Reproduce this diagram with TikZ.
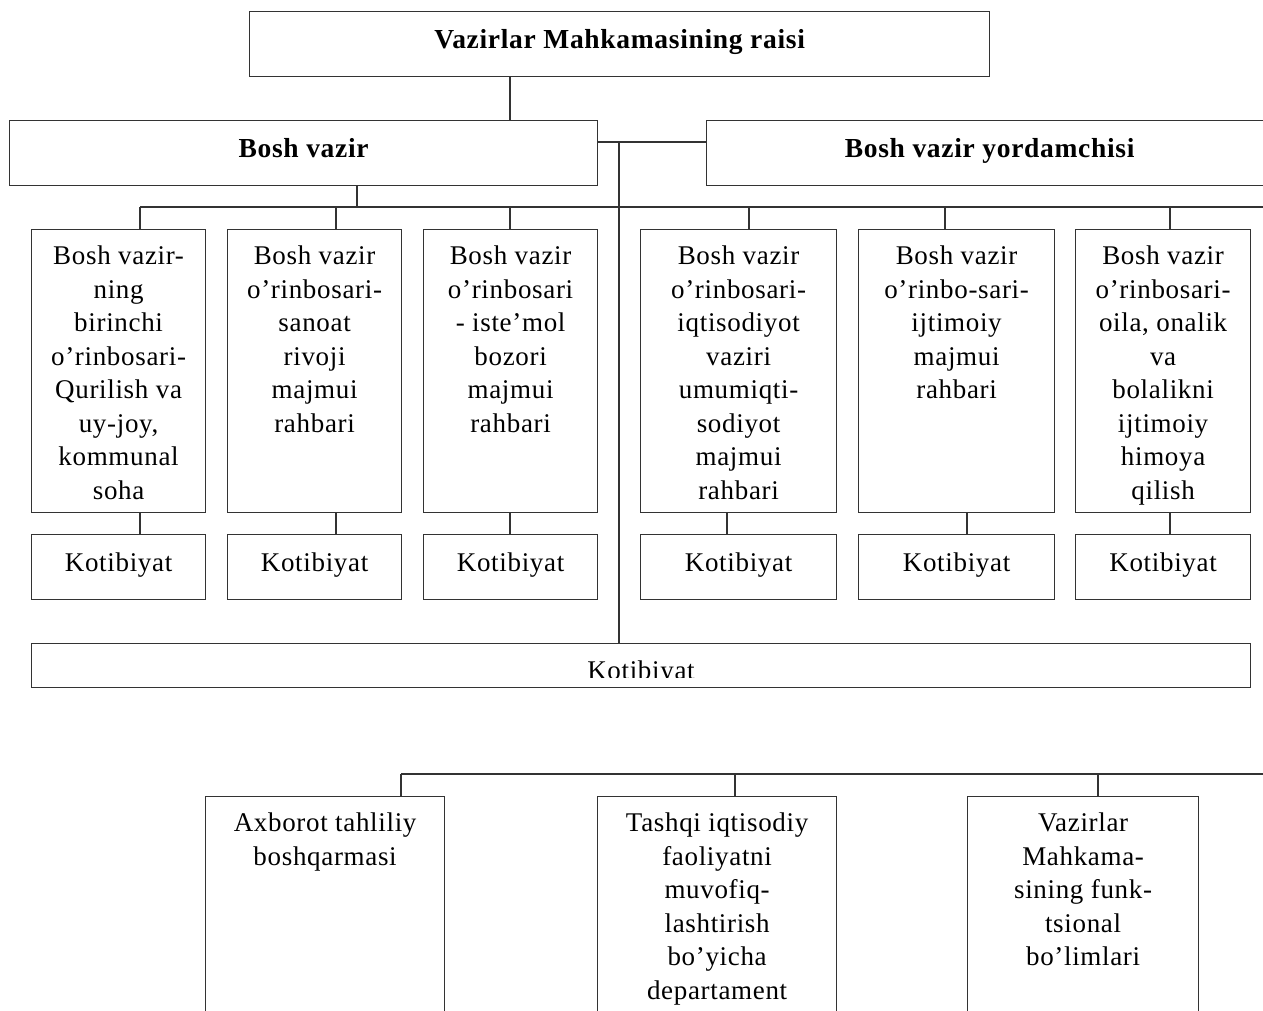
\documentclass[tikz,border=0pt]{standalone}
\usepackage{fontspec}
\setmainfont{Liberation Serif}[LetterSpace=2.5]
\begin{document}
\begin{tikzpicture}[x=1pt,y=-1pt,
  box/.style={draw=black!80, line width=1.2pt, rectangle, inner sep=0pt, anchor=north west,
    font=\fontsize{27}{33.5}\selectfont, text depth=10pt},
  bbox/.style={box, font=\fontsize{27.5}{33.5}\selectfont\bfseries},
  txt/.style={font=\fontsize{27}{33.5}\selectfont, align=center, inner sep=0pt, anchor=north},
  conn/.style={draw=black!80, line width=1.2pt}]
\useasboundingbox (0,0) rectangle (1263,1010);
\clip (0,0) rectangle (1263,1010);

% top level
\node[bbox, minimum width=740, minimum height=65] (raisi) at (249,11) {Vazirlar Mahkamasining raisi};
\node[bbox, minimum width=588, minimum height=65] (bv) at (9,120) {Bosh vazir};
\node[bbox, minimum width=566, minimum height=65] (yv) at (706,120) {Bosh vazir yordamchisi};

% deputies
\node[box, minimum width=174, minimum height=283] (b1) at (31,229) {};
\node[box, minimum width=174, minimum height=283] (b2) at (227,229) {};
\node[box, minimum width=174, minimum height=283] (b3) at (423,229) {};
\node[box, minimum width=196, minimum height=283] (b4) at (640,229) {};
\node[box, minimum width=196, minimum height=283] (b5) at (858,229) {};
\node[box, minimum width=175, minimum height=283] (b6) at (1075,229) {};

\node[txt] (t1) at ([yshift=-17pt]b1.north) {Bosh vazir-\\ning\\birinchi\\o’rinbosari-\\Qurilish va\\uy-joy,\\kommunal\\soha};
\node[txt] (t2) at ([yshift=-17pt]b2.north) {Bosh vazir\\o’rinbosari-\\sanoat\\rivoji\\majmui\\rahbari};
\node[txt] (t3) at ([yshift=-17pt]b3.north) {Bosh vazir\\o’rinbosari\\- iste’mol\\bozori\\majmui\\rahbari};
\node[txt] (t4) at ([yshift=-17pt]b4.north) {Bosh vazir\\o’rinbosari-\\iqtisodiyot\\vaziri\\umumiqti-\\sodiyot\\majmui\\rahbari};
\node[txt] (t5) at ([yshift=-17pt]b5.north) {Bosh vazir\\o’rinbo-sari-\\ijtimoiy\\majmui\\rahbari};
\node[txt] (t6) at ([yshift=-17pt]b6.north) {Bosh vazir\\o’rinbosari-\\oila, onalik\\va\\bolalikni\\ijtimoiy\\himoya\\qilish};

% secretariats
\node[box, minimum width=174, minimum height=65] (k1) at (31,534) {Kotibiyat};
\node[box, minimum width=174, minimum height=65] (k2) at (227,534) {Kotibiyat};
\node[box, minimum width=174, minimum height=65] (k3) at (423,534) {Kotibiyat};
\node[box, minimum width=196, minimum height=65] (k4) at (640,534) {Kotibiyat};
\node[box, minimum width=196, minimum height=65] (k5) at (858,534) {Kotibiyat};
\node[box, minimum width=175, minimum height=65] (k6) at (1075,534) {Kotibiyat};

% big secretariat
\node[box, minimum width=1219, minimum height=44] (bigk) at (31,643) {};
\begin{scope}
  \clip (31,643) rectangle (1250,677);
  \node[font=\fontsize{27}{33.5}\selectfont, inner sep=0pt, anchor=base] (bigkt) at (641,679) {Kotibiyat};
\end{scope}

% bottom boxes
\node[box, minimum width=239, minimum height=240] (a1) at (205,796) {};
\node[box, minimum width=239, minimum height=240] (a2) at (597,796) {};
\node[box, minimum width=231, minimum height=240] (a3) at (967,796) {};
\node[txt] (ta1) at ([yshift=-17pt]a1.north) {Axborot tahliliy\\boshqarmasi};
\node[txt] (ta2) at ([yshift=-17pt]a2.north) {Tashqi iqtisodiy\\faoliyatni\\muvofiq-\\lashtirish\\bo’yicha\\departament};
\node[txt] (ta3) at ([yshift=-17pt]a3.north) {Vazirlar\\Mahkama-\\sining funk-\\tsional\\bo’limlari};

% helper coordinates
\coordinate (c510) at (510,0);
\coordinate (h142) at (0,142);
\coordinate (v619) at (619,142);
\coordinate (bus) at (357,207);
\coordinate (busend) at (1275,207);
\coordinate (d1) at (140,207);
\coordinate (d2) at (336,207);
\coordinate (d3) at (510,207);
\coordinate (d4) at (749,207);
\coordinate (d5) at (945,207);
\coordinate (d6) at (1170,207);
\coordinate (e1) at (140,0);
\coordinate (e2) at (336,0);
\coordinate (e3) at (510,0);
\coordinate (e4) at (727,0);
\coordinate (e5) at (967,0);
\coordinate (e6) at (1170,0);
\coordinate (g1) at (401,774);
\coordinate (g2) at (735,774);
\coordinate (g3) at (1098,774);
\coordinate (gend) at (1275,774);

% connectors
\draw[conn] (raisi.south -| c510) -- (bv.north -| c510);
\draw[conn] (bv.east |- h142) -- (yv.west |- h142);
\draw[conn] (v619) -- (bigk.north -| v619);
\draw[conn] (bv.south -| bus) -- (bus);
\draw[conn] (d1) -- (busend);
\foreach \i in {1,...,6} {
  \draw[conn] (d\i) -- (b\i.north -| d\i);
  \draw[conn] (b\i.south -| e\i) -- (k\i.north -| e\i);
}
\draw[conn] (g1) -- (gend);
\draw[conn] (g1) -- (a1.north -| g1);
\draw[conn] (g2) -- (a2.north -| g2);
\draw[conn] (g3) -- (a3.north -| g3);
\end{tikzpicture}
\end{document}
